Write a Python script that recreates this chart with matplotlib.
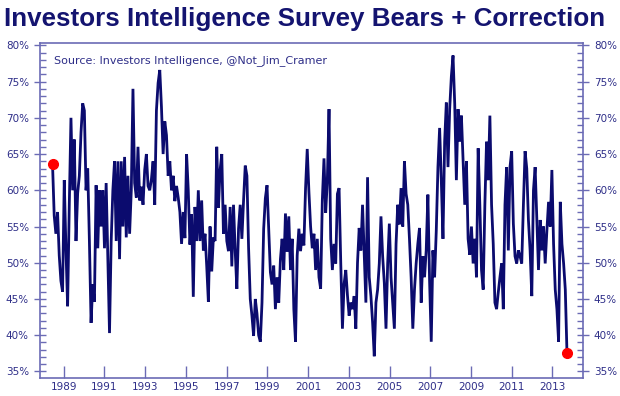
import matplotlib
matplotlib.use("Agg")
import matplotlib.pyplot as plt
import matplotlib.dates as mdates
from matplotlib import font_manager
from matplotlib.ticker import MultipleLocator, FuncFormatter
import pandas as pd

# bearish %, roughly every 4 weeks, mid-1988 to late 2013
bears_1988_1992 = [63.6, 56.5, 54, 57, 51, 47.5, 46, 61.4, 52, 44, 58, 70, 60, 67, 53, 59.6, 62, 68, 72, 71,
                   60, 63, 53, 41.7, 47, 44.6, 60.7, 52, 60, 55, 60, 52, 61, 50.5, 40.3, 53, 60, 64, 53, 64,
                   50.5, 64, 55, 64.6, 53.5, 62, 54, 60, 74, 61]
bears_1992_1997 = [59, 66, 58.6, 60.5, 58, 62.8, 65, 60.6, 60, 61.5, 64, 58, 71, 74.8, 76.6, 71.5, 65, 69.5, 67.6, 62,
                   64, 60, 62, 58.5, 60.6, 59, 57, 52.6, 57, 53.4, 65, 60, 52.5, 56.7, 45.3, 57.7, 53, 60, 53, 58.6,
                   51.7, 54, 49.6, 44.6, 55, 48.8, 53.5, 53, 66, 57.6, 62.8, 65, 54, 58, 53]
bears_1997_2001 = [51.6, 57.7, 49.5, 58, 51.7, 46.4, 54.7, 58, 53.3, 58.6, 63.4, 62, 52, 45, 42.7, 39.9, 45, 43, 40, 39.1,
                   44.5, 54.7, 58.9, 60.7, 54.8, 48.7, 47, 49.6, 43.6, 48, 44.5, 50.5, 53.3, 49, 56.8, 51.5, 56.4, 49, 53.3, 43.6,
                   39.1, 51, 54.7, 51.6, 54, 52.4, 60.3, 65.7, 59.8, 55, 52, 54, 49, 53.3]
bears_2001_2005 = [48, 46.4, 58.6, 64.4, 56.9, 61.4, 71.2, 53.3, 49, 52.6, 49.9, 59.5, 60.3, 50, 40.9, 47.1, 49, 45.5, 42.7, 44.5,
                   43.6, 45.4, 40.9, 50, 54.8, 51.7, 58, 51.3, 44.5, 61.8, 48, 45.4, 41.8, 37.1, 44.5, 46.3, 49.9, 56.4, 50.9, 47.2,
                   40.9, 49.9, 55.4, 48, 44.5, 40.9, 52.6, 58, 55.3, 60.3, 55, 64, 59.5, 58]
bears_2005_2010 = [53.3, 48, 40.9, 46.3, 49.9, 52.6, 54.8, 44.5, 50.9, 48, 51.7, 59.4, 47.6, 39.1, 51.7, 48, 54.4, 63.2, 68.6, 61.4,
                   53.3, 66.7, 72.1, 63.2, 71.2, 75.7, 78.6, 72, 61.4, 71.2, 66.7, 70.3, 64, 58, 64, 53.3, 51.1, 55, 49.9, 53.3,
                   48, 65.8, 58, 49, 46.3, 58, 66.7, 61.4, 70.3, 58, 52.6, 44.5, 43.6, 45.9]
bears_2010_2013 = [48, 49.9, 43.6, 58, 63.2, 51.7, 63.2, 65.4, 55.4, 50.9, 49.9, 51.7, 50.9, 49.9, 58, 65.4, 63, 55.9, 51.7, 45.4,
                   60, 63.2, 55.9, 49, 55.9, 51.7, 55, 49.9, 54.4, 58.4, 55, 62.8, 52.6, 46.3, 43.6, 39.1, 58.4, 52.6, 49.9, 46.3,
                   37.6]

bears = (bears_1988_1992 + bears_1992_1997 + bears_1997_2001 +
         bears_2001_2005 + bears_2005_2010 + bears_2010_2013)
dates = pd.date_range("1988-06-13", "2013-09-20", periods=len(bears))

tick_years = list(range(1989, 2014, 2))

navy = "#0b0b6e"
axis_col = "#6b6bb5"
label_col = "#2e2e88"

fig = plt.figure(figsize=(6.2, 3.96), dpi=100)
ax = fig.add_axes([0.0645, 0.0455, 0.8755, 0.8455])

ax.plot(dates, bears, color=navy, lw=2.0, solid_joinstyle="miter")
ax.plot([dates[0], dates[-1]], [bears[0], bears[-1]], "o", color="#ff0000", ms=7, zorder=5)

ax.set_ylim(34.1, 80.3)
ax.set_xlim(pd.Timestamp("1987-11-01"), pd.Timestamp("2014-07-01"))

ax.yaxis.set_major_locator(MultipleLocator(5))
ax.yaxis.set_minor_locator(MultipleLocator(1))
ax.yaxis.set_major_formatter(FuncFormatter(lambda v, p: "%d%%" % v))
ax.tick_params(axis="y", which="both", left=True, right=True, labelleft=True, labelright=True,
               colors=axis_col, labelcolor=label_col, labelsize=7.5)
ax.tick_params(axis="y", which="major", direction="inout", length=9, width=1)
ax.tick_params(axis="y", which="minor", direction="in", length=4, width=1)

ax.set_xticks([pd.Timestamp(year=y, month=1, day=1) for y in tick_years])
ax.xaxis.set_major_formatter(mdates.DateFormatter("%Y"))
ax.tick_params(axis="x", direction="in", length=9, width=1, colors=axis_col,
               labelcolor=label_col, labelsize=7.5, pad=3)

for s in ax.spines.values():
    s.set_color(axis_col)
    s.set_linewidth(1.2)

ax.text(0.025, 0.965, "Source: Investors Intelligence, @Not_Jim_Cramer", transform=ax.transAxes,
        ha="left", va="top", fontsize=8, color=label_col)

# narrow font if there is one, otherwise shrink to fit the width
names = {f.name for f in font_manager.fontManager.ttflist}
title_family = "Liberation Sans Narrow" if "Liberation Sans Narrow" in names else "Liberation Sans"
title = fig.text(0.492, 0.953, "Investors Intelligence Survey Bears + Correction", ha="center", va="center",
                 fontsize=18, fontweight="bold", color="#141470", family=title_family)
fig.canvas.draw()
w = title.get_window_extent().width
if abs(w - 600) > 4:
    title.set_fontsize(18 * 600 / w)

fig.savefig("out.png", dpi=100)
